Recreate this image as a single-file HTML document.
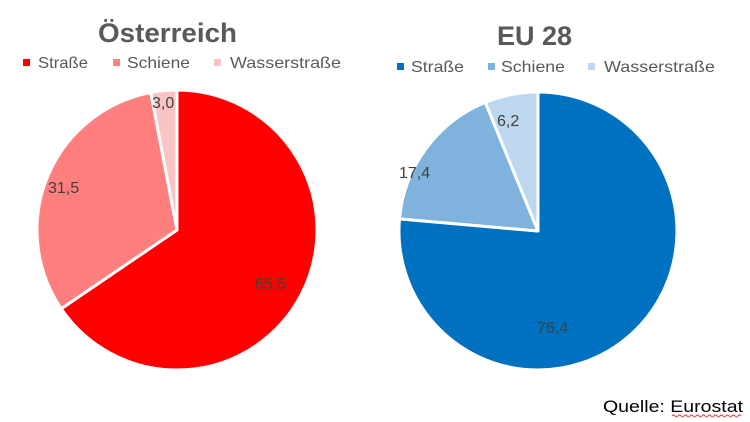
<!DOCTYPE html>
<html><head><meta charset="utf-8"><style>body{margin:0;background:#fff}svg{display:block}</style></head>
<body>
<svg width="750" height="422" xmlns="http://www.w3.org/2000/svg" font-family="Liberation Sans, sans-serif">
<rect width="750" height="422" fill="#fff"/>
<text x="98" y="42" font-size="27" font-weight="bold" fill="#595959" textLength="139" lengthAdjust="spacingAndGlyphs">Österreich</text>
<text x="497" y="45" font-size="27" font-weight="bold" fill="#595959" textLength="75" lengthAdjust="spacingAndGlyphs">EU 28</text>
<g font-size="16" fill="#595959">
<rect x="23" y="59" width="7" height="7" fill="#ff0000"/><text x="38" y="68" textLength="50" lengthAdjust="spacingAndGlyphs">Straße</text>
<rect x="113" y="59" width="7" height="7" fill="#ff7f7f"/><text x="127" y="68" textLength="63" lengthAdjust="spacingAndGlyphs">Schiene</text>
<rect x="214" y="59" width="7" height="7" fill="#f9c4c4"/><text x="230" y="68" textLength="111" lengthAdjust="spacingAndGlyphs">Wasserstraße</text>
<rect x="397" y="63" width="7" height="7" fill="#0070c0"/><text x="411" y="72" textLength="53" lengthAdjust="spacingAndGlyphs">Straße</text>
<rect x="488" y="63" width="7" height="7" fill="#7fb2dc"/><text x="501" y="72" textLength="64" lengthAdjust="spacingAndGlyphs">Schiene</text>
<rect x="588" y="63" width="7" height="7" fill="#bdd7ee"/><text x="604" y="72" textLength="111" lengthAdjust="spacingAndGlyphs">Wasserstraße</text>
</g>
<g stroke="#fff" stroke-width="3" stroke-linejoin="round">
<path d="M177,230 L177,90 A140,140 0 1 1 61.2,308.7 Z" fill="#ff0000"/>
<path d="M177,230 L61.2,308.7 A140,140 0 0 1 150.8,92.5 Z" fill="#ff7f7f"/>
<path d="M177,230 L150.8,92.5 A140,140 0 0 1 177,90 Z" fill="#f9c4c4"/>
<path d="M538,231 L538,92 A139,139 0 1 1 399.5,218.9 Z" fill="#0070c0"/>
<path d="M538,231 L399.5,218.9 A139,139 0 0 1 485.3,102.4 Z" fill="#7fb2dc"/>
<path d="M538,231 L485.3,102.4 A139,139 0 0 1 538,92 Z" fill="#bdd7ee"/>
</g>
<g font-size="16" fill="#404040">
<text x="255" y="289">65,5</text>
<text x="48" y="193">31,5</text>
<text x="152" y="108">3,0</text>
<text x="537" y="333">76,4</text>
<text x="399" y="178">17,4</text>
<text x="497" y="126">6,2</text>
</g>
<text x="603" y="412" font-size="17" fill="#000" textLength="140" lengthAdjust="spacingAndGlyphs">Quelle: Eurostat</text>
<path d="M672,416 q1.5,-2 3,0 t3,0 t3,0 t3,0 t3,0 t3,0 t3,0 t3,0 t3,0 t3,0 t3,0 t3,0 t3,0 t3,0 t3,0 t3,0 t3,0 t3,0 t3,0 t3,0 t3,0 t3,0 t3,0" stroke="#e03030" stroke-width="1" fill="none"/>
</svg>
</body></html>
